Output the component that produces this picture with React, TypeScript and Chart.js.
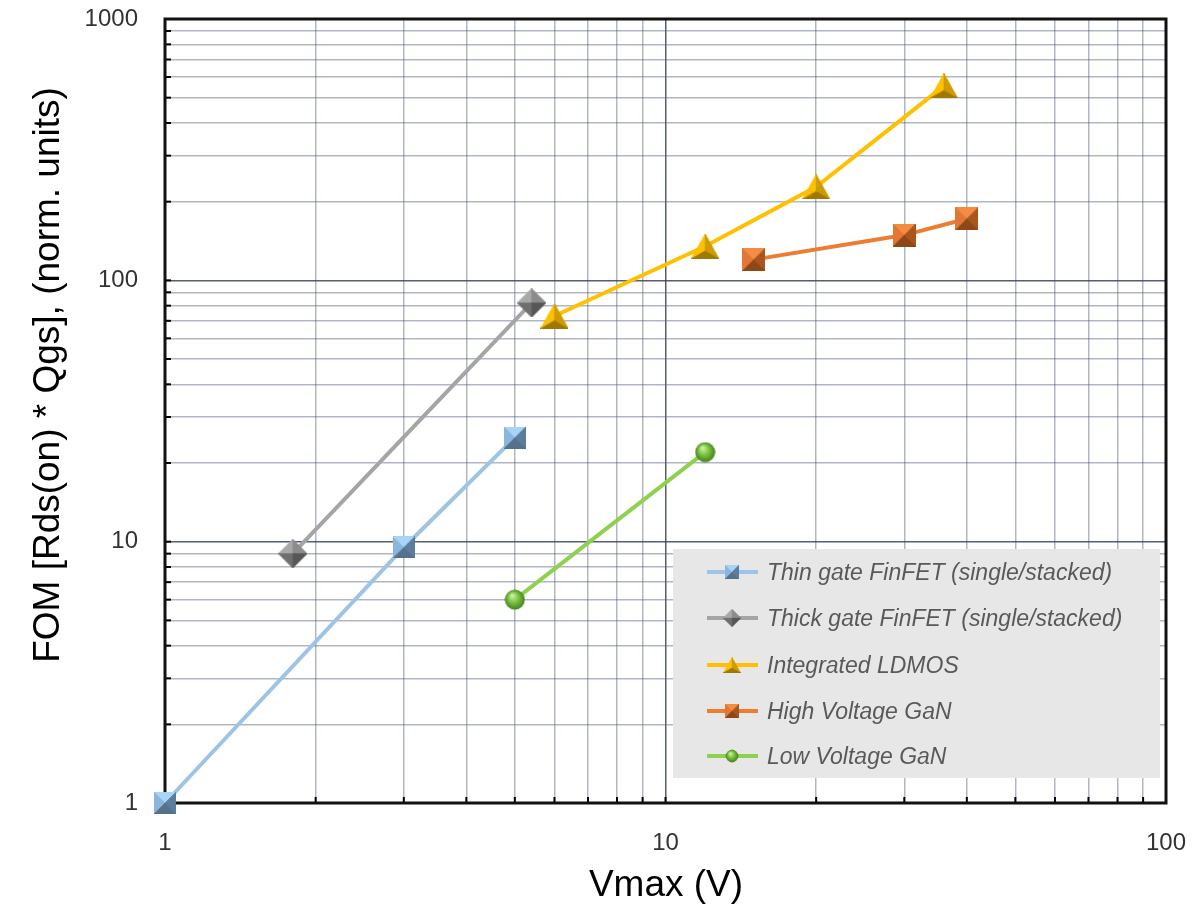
import React, { useEffect, useRef } from "react";
import { Chart, registerables } from "chart.js";

Chart.register(...registerables);

// ---- data ----
const seriesNames = [
  "Thin gate FinFET (single/stacked)",
  "Thick gate FinFET (single/stacked)",
  "Integrated LDMOS",
  "High Voltage GaN",
  "Low Voltage GaN",
];
const thinX = [1, 3, 5];
const thinY = [1, 9.5, 25];
const thickX = [1.8, 5.4];
const thickY = [9, 82];
const ldmosX = [6, 12, 20, 36];
const ldmosY = [73, 135, 228, 555];
const hvX = [15, 30, 40];
const hvY = [120, 149, 172];
const lvX = [5, 12];
const lvY = [6, 22];

const xTickValues = [1, 2, 3, 4, 5, 6, 7, 8, 9, 10, 20, 30, 40, 50, 60, 70, 80, 90, 100];
const yTickValues = [
  1, 2, 3, 4, 5, 6, 7, 8, 9, 10, 20, 30, 40, 50, 60, 70, 80, 90, 100, 200, 300, 400, 500, 600,
  700, 800, 900, 1000,
];
const xTickLabels = ["1", "10", "100"];
const yTickLabels = ["1", "10", "100", "1000"];

const xTitle = "Vmax (V)";
const yTitle = "FOM [Rds(on) * Qgs], (norm. units)";

const lineColors = ["#9dc3e6", "#a5a5a5", "#ffc000", "#ed7d31", "#8fd14f"];

// ---- marker factories ----
function mk(w: number, h: number) {
  const c = document.createElement("canvas");
  c.width = w;
  c.height = h;
  return c;
}
function tri(ctx: CanvasRenderingContext2D, pts: number[][], color: string) {
  ctx.beginPath();
  ctx.moveTo(pts[0][0], pts[0][1]);
  ctx.lineTo(pts[1][0], pts[1][1]);
  ctx.lineTo(pts[2][0], pts[2][1]);
  ctx.closePath();
  ctx.fillStyle = color;
  ctx.fill();
  ctx.strokeStyle = color;
  ctx.lineWidth = 0.6;
  ctx.stroke();
}
function squareMarker(s: number, top: string, left: string, right: string, bottom: string) {
  const c = mk(s, s);
  const ctx = c.getContext("2d")!;
  const m = s / 2;
  tri(ctx, [[0, 0], [s, 0], [m, m]], top);
  tri(ctx, [[0, 0], [0, s], [m, m]], left);
  tri(ctx, [[s, 0], [s, s], [m, m]], right);
  tri(ctx, [[0, s], [s, s], [m, m]], bottom);
  return c;
}
function diamondMarker(s: number, tl: string, tr: string, bl: string, br: string) {
  const c = mk(s, s);
  const ctx = c.getContext("2d")!;
  const m = s / 2;
  tri(ctx, [[0, m], [m, 0], [m, m]], tl);
  tri(ctx, [[m, 0], [s, m], [m, m]], tr);
  tri(ctx, [[0, m], [m, s], [m, m]], bl);
  tri(ctx, [[s, m], [m, s], [m, m]], br);
  return c;
}
function triangleMarker(w: number, h: number, left: string, right: string, bottom: string) {
  const c = mk(w, h);
  const ctx = c.getContext("2d")!;
  const cx = w / 2;
  const cy = h * 0.68;
  tri(ctx, [[cx, 0], [0, h], [cx, cy]], left);
  tri(ctx, [[cx, 0], [w, h], [cx, cy]], right);
  tri(ctx, [[0, h], [w, h], [cx, cy]], bottom);
  return c;
}
function sphereMarker(s: number) {
  const c = mk(s, s);
  const ctx = c.getContext("2d")!;
  const r = s / 2;
  const g = ctx.createRadialGradient(r * 0.75, r * 0.6, 1, r, r, r);
  g.addColorStop(0, "#c4f09a");
  g.addColorStop(0.45, "#7cc242");
  g.addColorStop(1, "#3f7d18");
  ctx.beginPath();
  ctx.arc(r, r, r - 0.5, 0, Math.PI * 2);
  ctx.fillStyle = g;
  ctx.fill();
  return c;
}

const isDecade = (v: number) => Math.abs(Math.log10(v) - Math.round(Math.log10(v))) < 1e-9;

export default function App() {
  const ref = useRef<HTMLCanvasElement>(null);

  useEffect(() => {
    const markers = [
      squareMarker(22, "#a9d3f7", "#8ab6de", "#5d7d9c", "#56718c"),
      diamondMarker(29, "#a8a8a8", "#8c8c8c", "#6e6e6e", "#565656"),
      triangleMarker(28, 25, "#ffc000", "#cf9c00", "#a07800"),
      squareMarker(23, "#f48c44", "#e27733", "#a9561e", "#8e4716"),
      sphereMarker(21),
    ];
    const xs = [thinX, thickX, ldmosX, hvX, lvX];
    const ys = [thinY, thickY, ldmosY, hvY, lvY];

    const datasets = seriesNames.map((name, i) => ({
      label: name,
      data: xs[i].map((x, j) => ({ x, y: ys[i][j] })),
      showLine: true,
      borderColor: lineColors[i],
      backgroundColor: lineColors[i],
      borderWidth: 4,
      pointStyle: markers[i] as any,
      pointRadius: 10,
      pointHoverRadius: 10,
      clip: false as any,
      tension: 0,
    }));

    const frame = {
      id: "frame",
      beforeDatasetsDraw(chart: any) {
        const { ctx, chartArea: a, scales } = chart;
        ctx.save();
        // inner tick marks
        ctx.strokeStyle = "#000";
        ctx.lineWidth = 2;
        for (const v of xTickValues) {
          const px = scales.x.getPixelForValue(v);
          ctx.beginPath();
          ctx.moveTo(px, a.bottom);
          ctx.lineTo(px, a.bottom - 6);
          ctx.stroke();
        }
        for (const v of yTickValues) {
          const py = scales.y.getPixelForValue(v);
          ctx.beginPath();
          ctx.moveTo(a.left, py);
          ctx.lineTo(a.left + 6, py);
          ctx.stroke();
        }
        // box
        ctx.lineWidth = 3;
        ctx.strokeStyle = "#111";
        ctx.strokeRect(a.left, a.top, a.right - a.left, a.bottom - a.top);

        // legend
        const lx = 673, ly = 549, lw = 487, lh = 229;
        ctx.fillStyle = "#e7e7e7";
        ctx.fillRect(lx, ly, lw, lh);
        const rowY = [572, 618, 665, 711, 756];
        ctx.font = "italic 23px 'Liberation Sans', Arial, sans-serif";
        ctx.textAlign = "left";
        ctx.textBaseline = "alphabetic";
        seriesNames.forEach((name, i) => {
          const y = rowY[i];
          ctx.strokeStyle = lineColors[i];
          ctx.lineWidth = 4;
          ctx.beginPath();
          ctx.moveTo(707, y);
          ctx.lineTo(758, y);
          ctx.stroke();
          const m = markers[i];
          const sc = 0.62;
          const w = m.width * sc, h = m.height * sc;
          ctx.drawImage(m, 732 - w / 2, y - h / 2, w, h);
          ctx.fillStyle = "#595959";
          ctx.fillText(name, 767, y + 8);
        });
        ctx.restore();
      },
      afterDraw(chart: any) {
        const { ctx } = chart;
        ctx.save();
        ctx.fillStyle = "#000";
        ctx.font = "37px 'Liberation Sans', Arial, sans-serif";
        ctx.textAlign = "center";
        ctx.textBaseline = "middle";
        ctx.fillText(xTitle, 666, 886);
        ctx.translate(49, 375);
        ctx.rotate(-Math.PI / 2);
        ctx.fillText(yTitle, 0, 0);
        ctx.restore();
      },
    };

    const gridColor = (ctx: any) =>
      ctx.tick && isDecade(ctx.tick.value) ? "rgba(55,66,92,0.85)" : "rgba(80,94,120,0.45)";

    const zeroPad = (s: any) => {
      s.paddingTop = 0;
      s.paddingBottom = 0;
      s.paddingLeft = 0;
      s.paddingRight = 0;
    };

    const chart = new Chart(ref.current!, {
      type: "scatter",
      data: { datasets: datasets as any },
      options: {
        responsive: false,
        maintainAspectRatio: false,
        animation: false,
        layout: { padding: { top: 19, right: 27, left: 0, bottom: 0 } },
        plugins: { legend: { display: false }, tooltip: { enabled: false } },
        scales: {
          x: {
            type: "logarithmic",
            min: 1,
            max: 100,
            afterFit: (s: any) => {
              s.height = 107;
              zeroPad(s);
            },
            afterBuildTicks: (s: any) => {
              s.ticks = xTickValues.map((v) => ({ value: v }));
            },
            ticks: {
              autoSkip: false,
              maxRotation: 0,
              padding: 26,
              color: "#333333",
              font: { family: "'Liberation Sans', Arial, sans-serif", size: 24 },
              callback: (v: any) => {
                const n = Number(v);
                return isDecade(n) && xTickLabels.includes(String(n)) ? String(n) : "";
              },
            },
            grid: { drawTicks: false, color: gridColor, lineWidth: 1.5 },
            border: { display: false },
          },
          y: {
            type: "logarithmic",
            min: 1,
            max: 1000,
            afterFit: (s: any) => {
              s.width = 165;
              zeroPad(s);
            },
            afterBuildTicks: (s: any) => {
              s.ticks = yTickValues.map((v) => ({ value: v }));
            },
            ticks: {
              autoSkip: false,
              padding: 27,
              color: "#333333",
              font: { family: "'Liberation Sans', Arial, sans-serif", size: 24 },
              callback: (v: any) => {
                const n = Number(v);
                return isDecade(n) && yTickLabels.includes(String(n)) ? String(n) : "";
              },
            },
            grid: { drawTicks: false, color: gridColor, lineWidth: 1.5 },
            border: { display: false },
          },
        },
      },
      plugins: [frame as any],
    });
    return () => chart.destroy();
  }, []);

  return (
    <div style={{ position: "absolute", left: 0, top: 0, width: 1193, height: 910, background: "#fff" }}>
      <canvas ref={ref} width={1193} height={910} style={{ width: 1193, height: 910, display: "block" }} />
    </div>
  );
}
